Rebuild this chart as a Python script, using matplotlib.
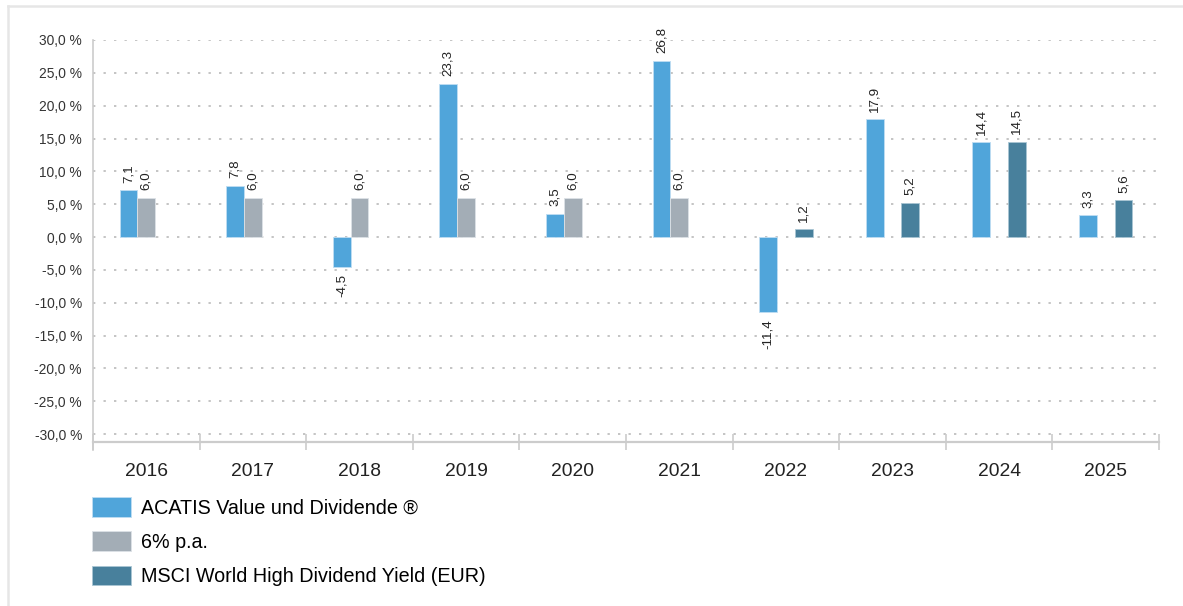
import matplotlib
matplotlib.use('Agg')
import matplotlib.pyplot as plt
import numpy as np
from matplotlib.lines import Line2D

plt.rcParams['font.family'] = ['Liberation Sans', 'DejaVu Sans']

years = ['2016', '2017', '2018', '2019', '2020', '2021', '2022', '2023', '2024', '2025']
acatis = [7.1, 7.8, -4.5, 23.3, 3.5, 26.8, -11.4, 17.9, 14.4, 3.3]
fixed_6 = [6.0, 6.0, 6.0, 6.0, 6.0, 6.0, np.nan, np.nan, np.nan, np.nan]
msci = [np.nan, np.nan, np.nan, np.nan, np.nan, np.nan, 1.2, 5.2, 14.5, 5.6]
series_names = ['ACATIS Value und Dividende ®', '6% p.a.', 'MSCI World High Dividend Yield (EUR)']
y_ticks = [30, 25, 20, 15, 10, 5, 0, -5, -10, -15, -20, -25, -30]

colors = ['#50A5DA', '#A3ADB6', '#48809C']
edges = ['#BFDDF2', '#DDE2E6', '#A9C6D4']

W, H = 1183, 606
fig = plt.figure(figsize=(W / 100, H / 100), dpi=100)
ax = fig.add_axes([93 / W, 1 - 442 / H, (1159 - 93) / W, (442 - 40) / H])

x = np.arange(len(years))
bw = 1 / 6
handles = []
for k, (vals, col, ec) in enumerate(zip([acatis, fixed_6, msci], colors, edges)):
    pos = x + (k - 1) * bw
    b = ax.bar(pos, vals, width=bw, color=col, edgecolor=ec, linewidth=0.6, zorder=3)
    handles.append(b)
    for px_, v in zip(pos, vals):
        if np.isnan(v):
            continue
        lbl = f'{v:.1f}'.replace('.', ',')
        if v >= 0:
            ax.annotate(lbl, (px_, v), xytext=(0, 5.5), textcoords='offset points',
                        rotation=90, ha='center', va='bottom', fontsize=9.6, color='#222222')
        else:
            ax.annotate(lbl, (px_, v), xytext=(0, -5.5), textcoords='offset points',
                        rotation=90, ha='center', va='top', fontsize=9.6, color='#222222')

ax.set_xlim(-0.5, len(years) - 0.5)
ax.set_ylim(-31.2, 30)
ax.set_yticks(y_ticks)
ax.set_yticklabels([f'{t:.1f}'.replace('.', ',') + ' %' for t in y_ticks])
ax.tick_params(axis='y', length=0, pad=8, labelsize=9.9, labelcolor='#333333')

# year labels at centers, ticks at boundaries
ax.set_xticks(np.arange(len(years) + 1) - 0.5)
ax.set_xticklabels([])
ax.set_xticks(x, minor=True)
ax.set_xticklabels(years, minor=True)
ax.tick_params(axis='x', which='major', direction='inout', length=12, width=1.2, color='#CCCCCC')
ax.tick_params(axis='x', which='minor', length=0, pad=15, labelsize=13.9, labelcolor='#222222')

for t in y_ticks:
    ax.axhline(t, color='#C4C4C4', linewidth=1.4, linestyle=(0, (1.2, 4.2)), zorder=1)

for s in ['top', 'right']:
    ax.spines[s].set_visible(False)
ax.spines['left'].set_color('#CCCCCC')
ax.spines['left'].set_linewidth(1.2)
ax.spines['left'].set_bounds(-32.4, 30)
ax.spines['bottom'].set_color('#CCCCCC')
ax.spines['bottom'].set_linewidth(1.6)

fig.legend(handles, series_names, loc='upper left', bbox_to_anchor=(92 / W, 1 - 497 / H),
           frameon=False, fontsize=14.2, handlelength=1.96, handleheight=1.16,
           handletextpad=0.5, labelspacing=0.7, borderpad=0, borderaxespad=0)

# outer frame lines (top and left)
fig.add_artist(Line2D([8 / W, 1], [1 - 6 / H, 1 - 6 / H], transform=fig.transFigure,
                      color='#E6E6E6', linewidth=1.8))
fig.add_artist(Line2D([8 / W, 8 / W], [0, 1 - 6 / H], transform=fig.transFigure,
                      color='#E6E6E6', linewidth=1.8))

fig.savefig('out.png', dpi=100)
